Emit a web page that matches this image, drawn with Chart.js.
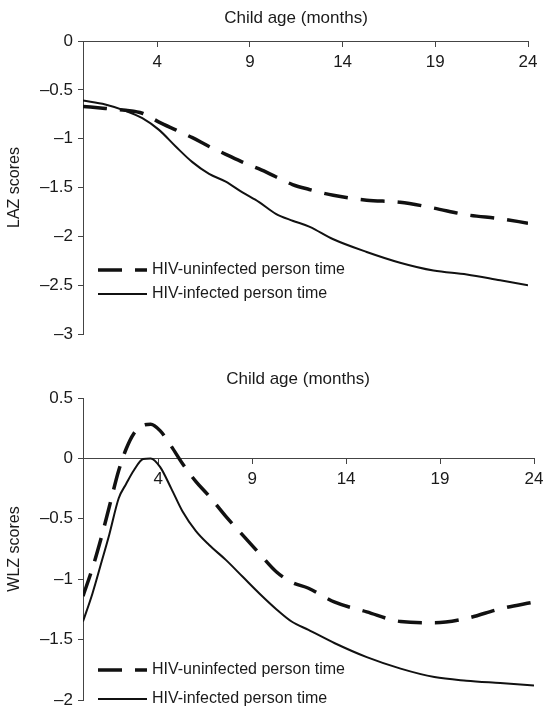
<!DOCTYPE html>
<html>
<head>
<meta charset="utf-8">
<script src="https://cdn.jsdelivr.net/npm/chart.js@4.4.1/dist/chart.umd.min.js"></script>
<style>
  html, body { margin: 0; padding: 0; background: #fff; }
  #wrap { position: relative; width: 544px; height: 708px; }
  canvas { position: absolute; left: 0; }
  #c1 { top: 0; }
  #c2 { top: 354px; }
</style>
</head>
<body>
<div id="wrap">
  <canvas id="c1" width="544" height="354"></canvas>
  <canvas id="c2" width="544" height="354"></canvas>
</div>
<script>
// ---------- data ----------
const seriesNames = ['HIV-uninfected person time', 'HIV-infected person time'];
const xTitle = 'Child age (months)';
const xTicks = [4, 9, 14, 19, 24];

const lazMonths = [0, 1.2, 2.3, 3.2, 4.1, 5, 5.9, 6.8, 7.7, 8.6, 9.5, 10.4, 11.3, 12.2, 13.5, 15.3, 17.1, 18.9, 20.7, 22.5, 24];
const lazUninfected = [-0.67, -0.69, -0.71, -0.74, -0.83, -0.91, -0.99, -1.08, -1.16, -1.24, -1.31, -1.39, -1.47, -1.52, -1.58, -1.63, -1.65, -1.71, -1.78, -1.82, -1.865];
const lazInfected = [-0.61, -0.65, -0.715, -0.79, -0.91, -1.08, -1.24, -1.36, -1.44, -1.55, -1.65, -1.77, -1.84, -1.9, -2.03, -2.16, -2.27, -2.35, -2.39, -2.45, -2.5];
const lazTickValues = [-3, -2.5, -2, -1.5, -1, -0.5, 0];
const lazTickLabels = ['\u20133', '\u20132.5', '\u20132', '\u20131.5', '\u20131', '\u20130.5', '0'];

const wlzMonths = [0, 0.5, 1.0, 1.4, 1.9, 2.3, 2.7, 3.2, 3.6, 4.1, 4.7, 5.3, 6.0, 6.7, 7.6, 8.5, 9.4, 10.3, 11.1, 12.0, 13.4, 15.1, 16.9, 18.7, 20.4, 22.2, 24];
const wlzUninfected = [-1.14, -0.91, -0.64, -0.40, -0.10, 0.08, 0.205, 0.275, 0.283, 0.23, 0.10, -0.045, -0.19, -0.31, -0.48, -0.635, -0.79, -0.94, -1.025, -1.075, -1.19, -1.27, -1.35, -1.36, -1.325, -1.245, -1.19];
const wlzInfected = [-1.35, -1.12, -0.85, -0.63, -0.33, -0.21, -0.10, -0.005, 0.0, -0.07, -0.25, -0.44, -0.60, -0.715, -0.84, -0.98, -1.12, -1.25, -1.35, -1.42, -1.53, -1.645, -1.74, -1.81, -1.84, -1.86, -1.88];
const wlzTickValues = [-2, -1.5, -1, -0.5, 0, 0.5];
const wlzTickLabels = ['\u20132', '\u20131.5', '\u20131', '\u20130.5', '0', '0.5'];

// ---------- styling ----------
const FONT = '"Liberation Sans", Arial, Helvetica, sans-serif';
const TEXT = '#1a1a1a';
const AXIS = '#444';
const LINE = '#111';

function pairs(xs, ys) { return xs.map((x, i) => ({ x: x, y: ys[i] })); }

const decor = {
  id: 'decor',
  afterDraw(chart, args, opts) {
    const { ctx, chartArea } = chart;
    ctx.save();
    ctx.fillStyle = TEXT;
    ctx.font = '17px ' + FONT;
    ctx.textAlign = 'center';
    ctx.textBaseline = 'middle';
    ctx.fillText(opts.title, opts.titleX, opts.titleY);
    ctx.font = '16px ' + FONT;
    chart.data.datasets.forEach((ds, i) => {
      const y = chartArea.bottom - opts.legendOffsets[i];
      const x0 = chartArea.left + 15;
      ctx.beginPath();
      ctx.setLineDash(ds.borderDash || []);
      ctx.lineWidth = ds.borderWidth;
      ctx.strokeStyle = ds.borderColor;
      ctx.moveTo(x0, y);
      ctx.lineTo(x0 + 49, y);
      ctx.stroke();
      ctx.setLineDash([]);
      ctx.textAlign = 'left';
      ctx.fillText(ds.label, x0 + 54, y);
    });
    ctx.restore();
  }
};

function makeChart(canvasId, months, unin, inf, yMin, yMax, tickVals, tickLabels, yTitle, pad, decorOpts) {
  return new Chart(document.getElementById(canvasId), {
    type: 'line',
    data: {
      datasets: [
        {
          label: seriesNames[0],
          data: pairs(months, unin),
          borderColor: LINE,
          borderWidth: 3.5,
          borderDash: [24, 13],
          pointRadius: 0,
          fill: false,
          cubicInterpolationMode: 'monotone'
        },
        {
          label: seriesNames[1],
          data: pairs(months, inf),
          borderColor: LINE,
          borderWidth: 2,
          pointRadius: 0,
          fill: false,
          cubicInterpolationMode: 'monotone'
        }
      ]
    },
    options: {
      responsive: false,
      animation: false,
      devicePixelRatio: 1,
      layout: { padding: pad },
      plugins: {
        legend: { display: false },
        tooltip: { enabled: false },
        title: { display: false },
        decor: decorOpts
      },
      scales: {
        x: {
          type: 'linear',
          min: 0,
          max: 24,
          position: { y: 0 },
          afterBuildTicks: (s) => { s.ticks = xTicks.map(v => ({ value: v })); },
          afterFit: (s) => { s.paddingLeft = 0; s.paddingRight = 0; },
          ticks: {
            autoSkip: false,
            maxRotation: 0,
            padding: 6,
            color: TEXT,
            font: { family: FONT, size: 17 },
            callback: (v) => String(v)
          },
          grid: { display: true, drawOnChartArea: false, drawTicks: true, tickLength: 5, color: AXIS, lineWidth: 1 },
          border: { display: true, color: AXIS, width: 1 }
        },
        y: {
          type: 'linear',
          min: yMin,
          max: yMax,
          position: 'left',
          afterBuildTicks: (s) => { s.ticks = tickVals.map(v => ({ value: v })); },
          afterFit: (s) => { s.width = 83; s.paddingTop = 0; s.paddingBottom = 0; },
          ticks: {
            padding: 5,
            color: TEXT,
            font: { family: FONT, size: 17 },
            callback: (v) => { const k = tickVals.indexOf(v); return k >= 0 ? tickLabels[k] : ''; }
          },
          grid: { display: true, drawOnChartArea: false, drawTicks: true, tickLength: 5, color: AXIS, lineWidth: 1 },
          border: { display: true, color: AXIS, width: 1 },
          title: {
            display: true,
            text: yTitle,
            color: TEXT,
            font: { family: FONT, size: 16 },
            padding: { top: 5, bottom: 0 }
          }
        }
      }
    },
    plugins: [decor]
  });
}

makeChart('c1', lazMonths, lazUninfected, lazInfected, -3, 0, lazTickValues, lazTickLabels, 'LAZ scores',
  { top: 41, right: 16, bottom: 20, left: 0 },
  { title: xTitle, titleX: 296, titleY: 18, legendOffsets: [64, 40] });

makeChart('c2', wlzMonths, wlzUninfected, wlzInfected, -2, 0.5, wlzTickValues, wlzTickLabels, 'WLZ scores',
  { top: 44, right: 10, bottom: 8, left: 0 },
  { title: xTitle, titleX: 298, titleY: 25, legendOffsets: [30, 1] });
</script>
</body>
</html>
